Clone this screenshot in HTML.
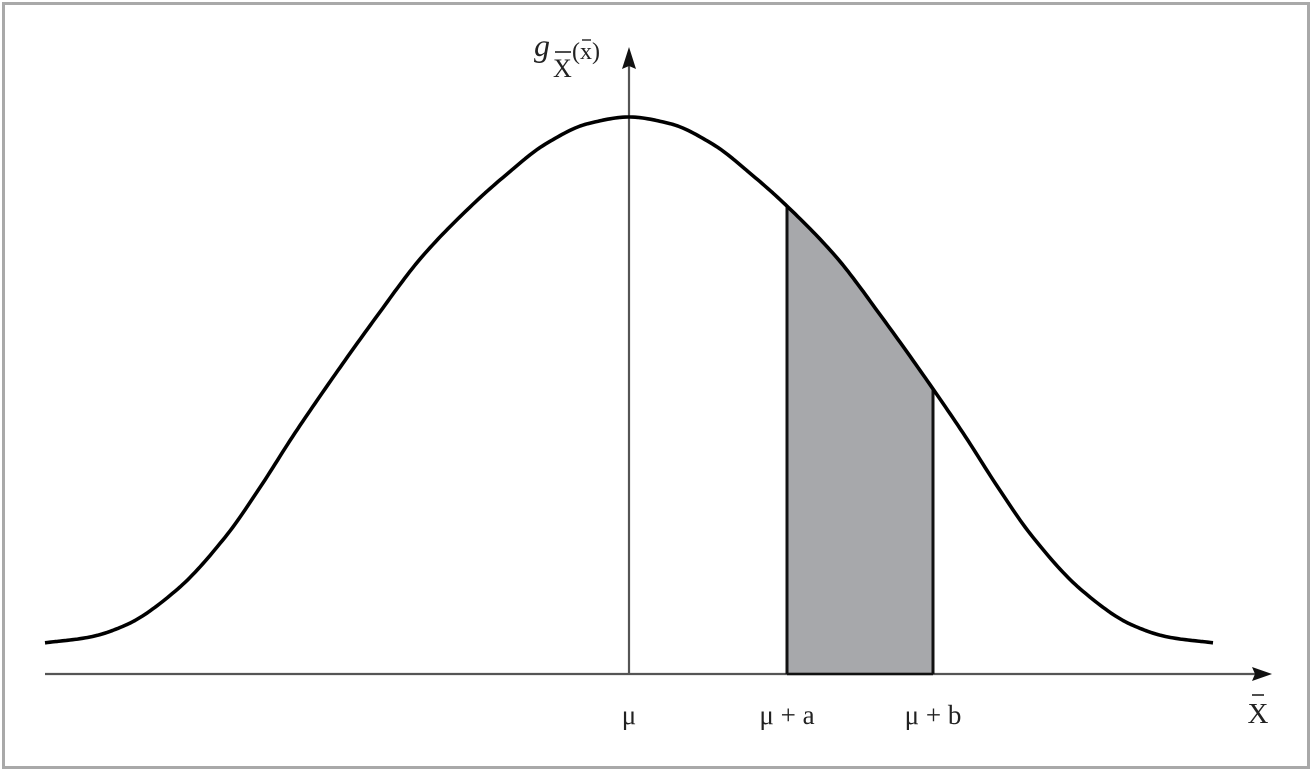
<!DOCTYPE html>
<html><head><meta charset="utf-8">
<style>
html,body{margin:0;padding:0;background:#fff;}
svg{display:block;}
text{font-family:"Liberation Serif",serif;fill:#222;}
</style></head>
<body>
<svg id="chart" width="1312" height="772" viewBox="0 0 1312 772">
  <rect x="3.5" y="3.5" width="1305" height="764" fill="#fff" stroke="#a9a9a9" stroke-width="3"/>
  <g id="plot"></g>
</svg>
<script>
// offsets from mu (1 unit = 100px) and relative density (peak = 1)
const xOffsets = [-5.84,-5.4,-5.03,-4.53,-4.02,-3.69,-3.35,-2.93,-2.51,-2.09,-1.58,-1.25,-0.83,-0.41,0,0.41,0.83,1.25,1.58,2.09,2.51,2.93,3.35,3.69,4.02,4.53,5.03,5.4,5.84];
const densities = [0.056,0.066,0.088,0.15,0.25,0.335,0.43,0.54,0.645,0.745,0.84,0.893,0.952,0.988,1,0.988,0.952,0.893,0.84,0.745,0.645,0.54,0.43,0.335,0.25,0.15,0.088,0.066,0.056];
const shadeRange = [1.58, 3.04];
const tickPositions = [0, 1.58, 3.04];
const tickLabels = ["\u03bc", "\u03bc + a", "\u03bc + b"];

const NS = "http://www.w3.org/2000/svg";
const X0 = 629, Y0 = 674, PX = 100, PY = 557;
const sx = v => X0 + v * PX;
const sy = v => Y0 - v * PY;
const g = document.getElementById('plot');
function mk(tag, attrs){const e=document.createElementNS(NS,tag);for(const k in attrs)e.setAttribute(k,attrs[k]);g.appendChild(e);return e;}

// monotone cubic (Fritsch-Carlson) interpolation
const n = xOffsets.length;
const slopes = [];
(function(){
  const dl=[];
  for(let i=0;i<n-1;i++) dl.push((densities[i+1]-densities[i])/(xOffsets[i+1]-xOffsets[i]));
  slopes.push(dl[0]);
  for(let i=1;i<n-1;i++){
    if(dl[i-1]*dl[i]<=0) slopes.push(0);
    else { const h0=xOffsets[i]-xOffsets[i-1], h1=xOffsets[i+1]-xOffsets[i];
      const w1=2*h1+h0, w2=h1+2*h0; slopes.push((w1+w2)/(w1/dl[i-1]+w2/dl[i])); }
  }
  slopes.push(dl[n-2]);
})();
function interp(x){
  for(let i=0;i<n-1;i++){
    if(x>=xOffsets[i]&&x<=xOffsets[i+1]){
      const h=xOffsets[i+1]-xOffsets[i], t=(x-xOffsets[i])/h, t2=t*t, t3=t2*t;
      return (2*t3-3*t2+1)*densities[i]+(t3-2*t2+t)*h*slopes[i]+(-2*t3+3*t2)*densities[i+1]+(t3-t2)*h*slopes[i+1];
    }
  }
  return densities[n-1];
}
function curvePts(a,b){const pts=[];const m=Math.max(2,Math.round((b-a)*40));for(let i=0;i<=m;i++){const x=a+(b-a)*i/m;pts.push([sx(x),sy(interp(x))]);}return pts;}

// shaded area
const sp = curvePts(shadeRange[0], shadeRange[1]);
let d = `M${sx(shadeRange[0])},${Y0} ` + sp.map(p=>`L${p[0].toFixed(1)},${p[1].toFixed(1)}`).join(' ') + ` L${sx(shadeRange[1])},${Y0} Z`;
const area = mk('path',{d:d,fill:'#a7a8ab',stroke:'none'});



// axes
const xAxis = mk('line',{x1:45,y1:Y0,x2:1262,y2:Y0,stroke:'#555',"stroke-width":2.2});


const xArrow = mk('path',{d:`M1272,${Y0} L1252,${Y0-7} L1255,${Y0} L1252,${Y0+7} Z`,fill:'#111'});


const yAxis = mk('line',{x1:X0,y1:Y0,x2:X0,y2:62,stroke:'#555',"stroke-width":2.2});


const yArrow = mk('path',{d:`M${X0},47 L${X0-7},69 L${X0},66 L${X0+7},69 Z`,fill:'#111'});



// bounds lines
[shadeRange[0],shadeRange[1]].forEach((v,i)=>{
  const l = mk('line',{x1:sx(v),y1:Y0,x2:sx(v),y2:sy(interp(v)),stroke:'#111',"stroke-width":3});
  
  
});
const bl = mk('line',{x1:sx(shadeRange[0]),y1:Y0,x2:sx(shadeRange[1]),y2:Y0,stroke:'#111',"stroke-width":2.5});



// curve
const cp = curvePts(xOffsets[0], xOffsets[n-1]);
const curve = mk('path',{d:'M'+cp.map(p=>p[0].toFixed(1)+','+p[1].toFixed(1)).join(' L'),fill:'none',stroke:'#000',"stroke-width":3.6,"stroke-linejoin":"round"});



// tick labels
tickPositions.forEach((v,i)=>{
  const t = mk('text',{x:sx(v),y:724,"text-anchor":"middle","font-size":27});
  t.textContent = tickLabels[i];
  
  
});

// axis titles
const xt = mk('text',{x:1258,y:723,"text-anchor":"middle","font-size":29});
xt.textContent = "X";


const xbar = mk('line',{x1:1252,y1:695,x2:1264,y2:695,stroke:'#222',"stroke-width":1.6});



const yt = mk('text',{x:534,y:56,"font-size":32,"font-style":"italic"});
yt.textContent = "g";


const ys = mk('text',{x:553,y:77,"font-size":26});
ys.textContent = "X";


const ysb = mk('line',{x1:555,y1:52,x2:571,y2:52,stroke:'#222',"stroke-width":1.6});


const ya = mk('text',{x:572,y:59,"font-size":24});
ya.textContent = "(x)";


const yab = mk('line',{x1:582,y1:40,x2:591,y2:40,stroke:'#222',"stroke-width":1.4});


</script>
</body></html>
